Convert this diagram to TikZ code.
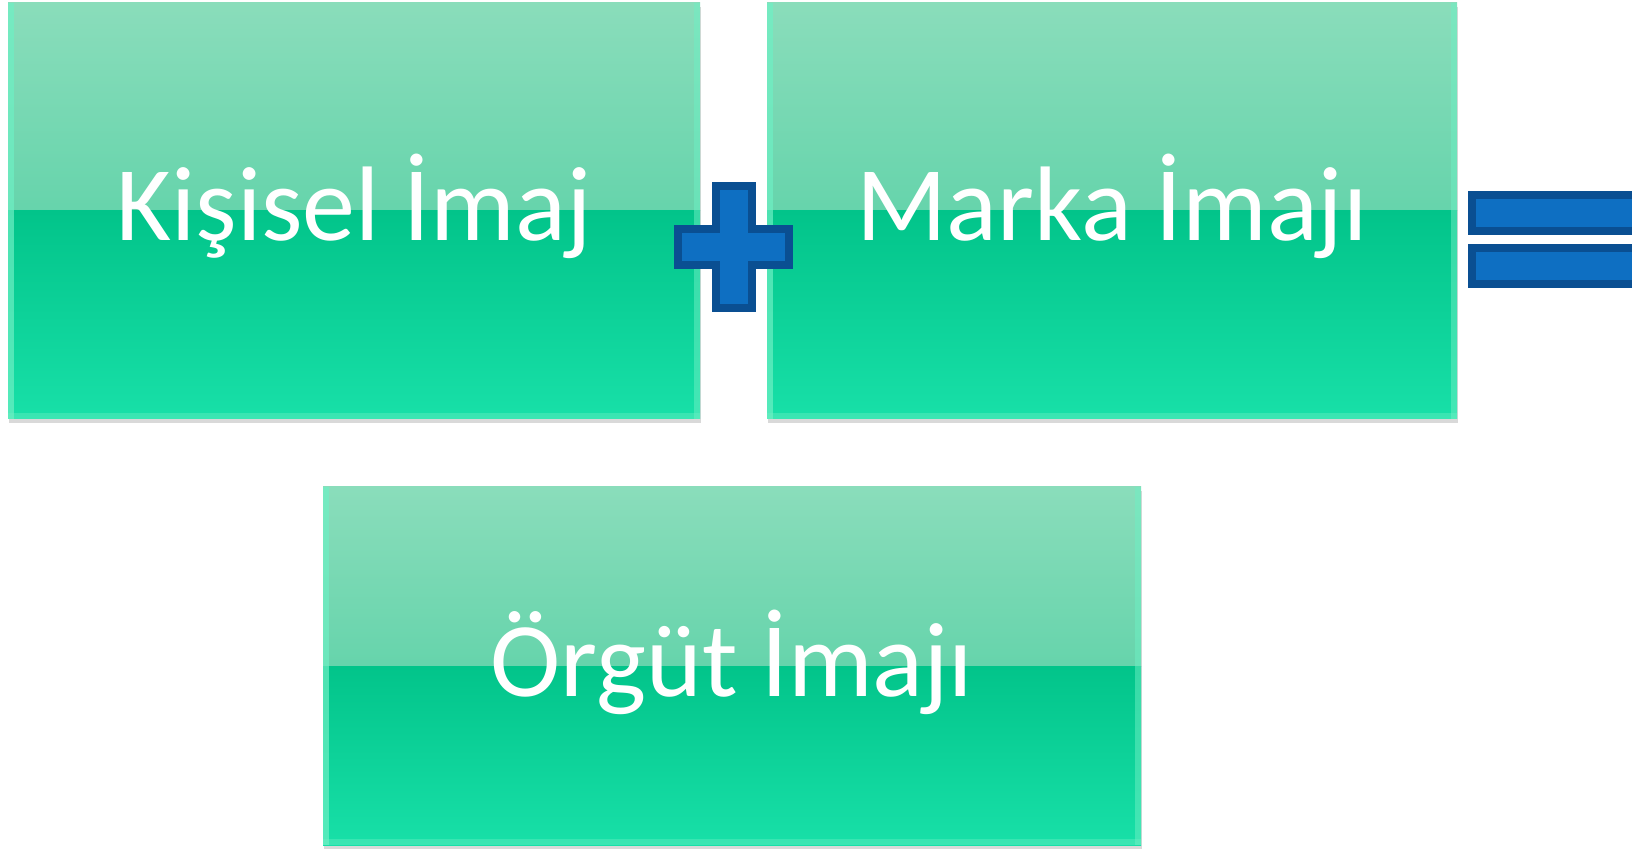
\documentclass[tikz,border=0pt]{standalone}
\usepackage{fontspec}
\setmainfont{Carlito}
\usetikzlibrary{calc}
\definecolor{gtopA}{HTML}{8ADDBB}
\definecolor{gtopB}{HTML}{42CB9C}
\definecolor{gbotA}{HTML}{02C48A}
\definecolor{gbotB}{HTML}{18E0A8}
\definecolor{gedge}{HTML}{6EF0C4}
\definecolor{bfill}{HTML}{0E6FC2}
\definecolor{bline}{HTML}{0A4F92}
\tikzset{
  px/.style={x=0.5pt,y=-0.5pt},
  gbox/.style={rectangle, inner sep=0pt, text=white, font=\fontsize{53}{58}\selectfont,
    path picture={
      \shade[top color=gtopA,bottom color=gtopB]
        (path picture bounding box.north west) rectangle (path picture bounding box.east);
      \shade[top color=gbotA,bottom color=gbotB]
        (path picture bounding box.west) rectangle (path picture bounding box.south east);
      \fill[gedge,opacity=0.7] (path picture bounding box.north west) rectangle ($(path picture bounding box.south west)+(3pt,0)$);
      \fill[gedge,opacity=0.5] ($(path picture bounding box.north east)+(-3pt,0)$) rectangle (path picture bounding box.south east);
      \fill[gedge,opacity=0.4] ($(path picture bounding box.south west)+(0,3pt)$) rectangle (path picture bounding box.south east);
    }},
  lbl/.style={text=white, font=\fontsize{53}{58}\selectfont, inner sep=0pt},
  shad/.style={fill=black,opacity=0.15},
  sym/.style={draw=bline,fill=bfill,line width=4pt,line join=miter}
}
\begin{document}
\begin{tikzpicture}[px]
\useasboundingbox (0,0) rectangle (1632,849);
\fill[white] (0,0) rectangle (1632,849);
\clip (0,0) rectangle (1632,849);
% shadows
\fill[shad] (9,7) rectangle (701,423);
\fill[shad] (768,7) rectangle (1458,423);
\fill[shad] (324,491) rectangle (1142,849);
% boxes
\node[gbox, minimum width=346pt, minimum height=208pt] (k) at (354,211) {};
\node[gbox, minimum width=345pt, minimum height=208pt] (m) at (1112,211) {};
\node[gbox, minimum width=409pt, minimum height=179pt] (o) at (732,666) {};
\node[lbl, yshift=2.5pt] (kt) at (k) {Kişisel İmaj};
\node[lbl, yshift=2.5pt] (mt) at (m) {Marka İmajı};
\node[lbl, yshift=2pt] (ot) at (o) {Örgüt İmajı};
% plus
\draw[sym] (716,186) -- (752,186) -- (752,229) -- (789,229) -- (789,265) -- (752,265)
  -- (752,308) -- (716,308) -- (716,265) -- (678,265) -- (678,229) -- (716,229) -- cycle;
% equals
\draw[sym] (1472,195) rectangle (1650,231);
\draw[sym] (1472,248) rectangle (1650,284);
\end{tikzpicture}
\end{document}
